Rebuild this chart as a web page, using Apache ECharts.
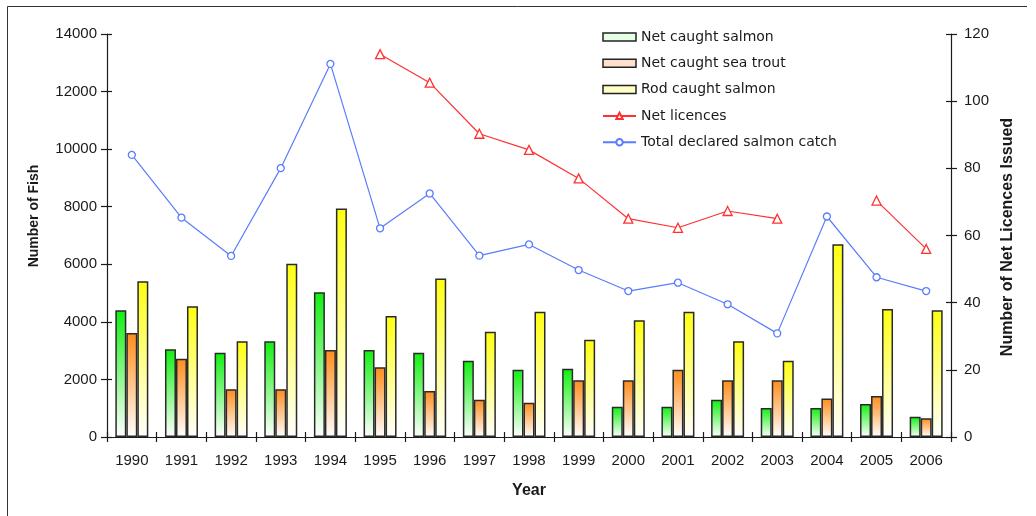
<!DOCTYPE html>
<html>
<head>
<meta charset="utf-8">
<script src="https://cdn.jsdelivr.net/npm/echarts@6/dist/echarts.min.js"></script>
<style>
  html, body { margin: 0; padding: 0; background: #fff; }
  #chart { width: 1036px; height: 516px; }
</style>
</head>
<body>
<div id="chart"></div>
<script>
// Salmon and sea trout catches, 1990-2006
const years = ['1990','1991','1992','1993','1994','1995','1996','1997','1998',
               '1999','2000','2001','2002','2003','2004','2005','2006'];

const netSalmon   = [4400, 3050, 2930, 3330, 5030, 3020, 2930, 2650, 2340,
                     2370, 1050, 1050, 1290, 1010, 1010, 1150,  700];
const netSeaTrout = [3610, 2720, 1660, 1660, 3020, 2420, 1600, 1290, 1190,
                     1970, 1970, 2340, 1970, 1970, 1340, 1420,  650];
const rodSalmon   = [5410, 4540, 3330, 6020, 7940, 4200, 5510, 3660, 4350,
                     3380, 4060, 4350, 3330, 2650, 6700, 4450, 4400];

// Net licences (right axis); no figures before 1995 or for 2004
const netLicences = [null, null, null, null, null, 114, 105.5, 90.3, 85.5,
                     77, 65, 62.3, 67.3, 65, null, 70.4, 56];

// Total declared salmon catch (left axis)
const totalCatch  = [9800, 7620, 6290, 9340, 12960, 7250, 8460, 6300, 6690,
                     5800, 5070, 5360, 4610, 3600, 7660, 5550, 5070];

const leftTicks  = { min: 0, max: 14000, interval: 2000 };
const rightTicks = { min: 0, max: 120, interval: 20 };

const chart = echarts.init(document.getElementById('chart'), null, { renderer: 'canvas' });

function fade(top) {
  return new echarts.graphic.LinearGradient(0, 0, 0, 1, [
    { offset: 0, color: top },
    { offset: 1, color: '#ffffff' }
  ]);
}

const FONT = '"Liberation Sans", Arial, sans-serif';
const WIDE = '"DejaVu Sans", sans-serif';
const INK = '#1a1a1a';
const axisLineStyle = { color: INK, width: 1.2 };

function barSeries(name, data, top) {
  return {
    name: name,
    type: 'bar',
    yAxisIndex: 0,
    data: data,
    barWidth: 11,
    barGap: '0%',
    itemStyle: { color: fade(top), borderColor: '#2a2a2a', borderWidth: 1.5 },
    emphasis: { disabled: true }
  };
}

// Extra label-less axes that draw the inner half of each tick, so ticks cross the axis line
function innerTickY(position, range) {
  return {
    type: 'value', position: position,
    min: range.min, max: range.max, interval: range.interval,
    axisLine: { show: false },
    axisTick: { show: true, inside: true, length: 5, lineStyle: axisLineStyle },
    axisLabel: { show: false },
    splitLine: { show: false }
  };
}

chart.setOption({
  animation: false,
  textStyle: { fontFamily: FONT },
  grid: { left: 107, right: 85, top: 34, bottom: 79, containLabel: false },
  graphic: [
    { type: 'line', shape: { x1: 7.5, y1: 6.5, x2: 1027, y2: 6.5 },
      style: { stroke: '#333', lineWidth: 1 } },
    { type: 'line', shape: { x1: 7.5, y1: 6.5, x2: 7.5, y2: 516 },
      style: { stroke: '#333', lineWidth: 1 } },
    { type: 'text', x: 34, y: 216, rotation: Math.PI / 2,
      style: { text: 'Number of Fish', font: 'bold 14px "Liberation Sans", Arial, sans-serif',
               fill: INK, align: 'center', verticalAlign: 'middle' } },
    { type: 'text', x: 1008, y: 237, rotation: Math.PI / 2,
      style: { text: 'Number of Net Licences Issued', font: 'bold 16px "Liberation Sans", Arial, sans-serif',
               fill: INK, align: 'center', verticalAlign: 'middle' } }
  ],
  legend: {
    orient: 'vertical',
    left: 602,
    top: 30,
    padding: 0,
    itemWidth: 33,
    itemHeight: 8,
    itemGap: 12.3,
    textStyle: { fontFamily: WIDE, fontSize: 14, color: INK, padding: [0, 0, 0, 0] },
    data: [
      { name: 'Net caught salmon', icon: 'rect',
        itemStyle: { color: '#e4ffe4', borderColor: '#222', borderWidth: 1.5 } },
      { name: 'Net caught sea trout', icon: 'rect',
        itemStyle: { color: '#ffe0cc', borderColor: '#222', borderWidth: 1.5 } },
      { name: 'Rod caught salmon', icon: 'rect',
        itemStyle: { color: '#ffffc8', borderColor: '#222', borderWidth: 1.5 } },
      { name: 'Net licences' },
      { name: 'Total declared salmon catch' }
    ]
  },
  xAxis: [
    {
      type: 'category',
      data: years,
      name: 'Year',
      nameLocation: 'middle',
      nameGap: 46,
      nameTextStyle: { fontFamily: FONT, fontSize: 16, fontWeight: 'bold', color: INK },
      axisLine: { lineStyle: axisLineStyle },
      axisTick: { show: true, alignWithLabel: false, length: 5, lineStyle: axisLineStyle },
      axisLabel: { fontFamily: FONT, fontSize: 15, color: INK, margin: 16 },
      splitLine: { show: false }
    },
    {
      type: 'category',
      data: years,
      position: 'bottom',
      axisLine: { show: false },
      axisTick: { show: true, inside: true, alignWithLabel: false, length: 5, lineStyle: axisLineStyle },
      axisLabel: { show: false },
      splitLine: { show: false }
    }
  ],
  yAxis: [
    {
      type: 'value',
      min: leftTicks.min, max: leftTicks.max, interval: leftTicks.interval,
      axisLine: { show: true, lineStyle: axisLineStyle },
      axisTick: { show: true, length: 6, lineStyle: axisLineStyle },
      axisLabel: { fontFamily: FONT, fontSize: 15, color: INK, margin: 10,
                   formatter: v => String(v) },
      splitLine: { show: false }
    },
    {
      type: 'value',
      position: 'right',
      min: rightTicks.min, max: rightTicks.max, interval: rightTicks.interval,
      axisLine: { show: true, lineStyle: axisLineStyle },
      axisTick: { show: true, length: 6, lineStyle: axisLineStyle },
      axisLabel: { fontFamily: FONT, fontSize: 15, color: INK, margin: 13 },
      splitLine: { show: false }
    },
    innerTickY('left', leftTicks),
    innerTickY('right', rightTicks)
  ],
  series: [
    barSeries('Net caught salmon', netSalmon, '#10f010'),
    barSeries('Net caught sea trout', netSeaTrout, '#ff8c1a'),
    barSeries('Rod caught salmon', rodSalmon, '#ffff10'),
    {
      name: 'Net licences',
      type: 'line',
      yAxisIndex: 1,
      data: netLicences,
      connectNulls: false,
      symbol: 'triangle',
      symbolSize: 9,
      showAllSymbol: true,
      lineStyle: { color: '#ff3030', width: 1.2 },
      itemStyle: { color: '#ffffff', borderColor: '#ff3030', borderWidth: 1.3 },
      emphasis: { disabled: true }
    },
    {
      name: 'Total declared salmon catch',
      type: 'line',
      yAxisIndex: 0,
      data: totalCatch,
      symbol: 'circle',
      symbolSize: 7,
      showAllSymbol: true,
      lineStyle: { color: '#5a7cff', width: 1.2 },
      itemStyle: { color: '#ffffff', borderColor: '#5a7cff', borderWidth: 1.3 },
      emphasis: { disabled: true }
    }
  ]
});
</script>
</body>
</html>
